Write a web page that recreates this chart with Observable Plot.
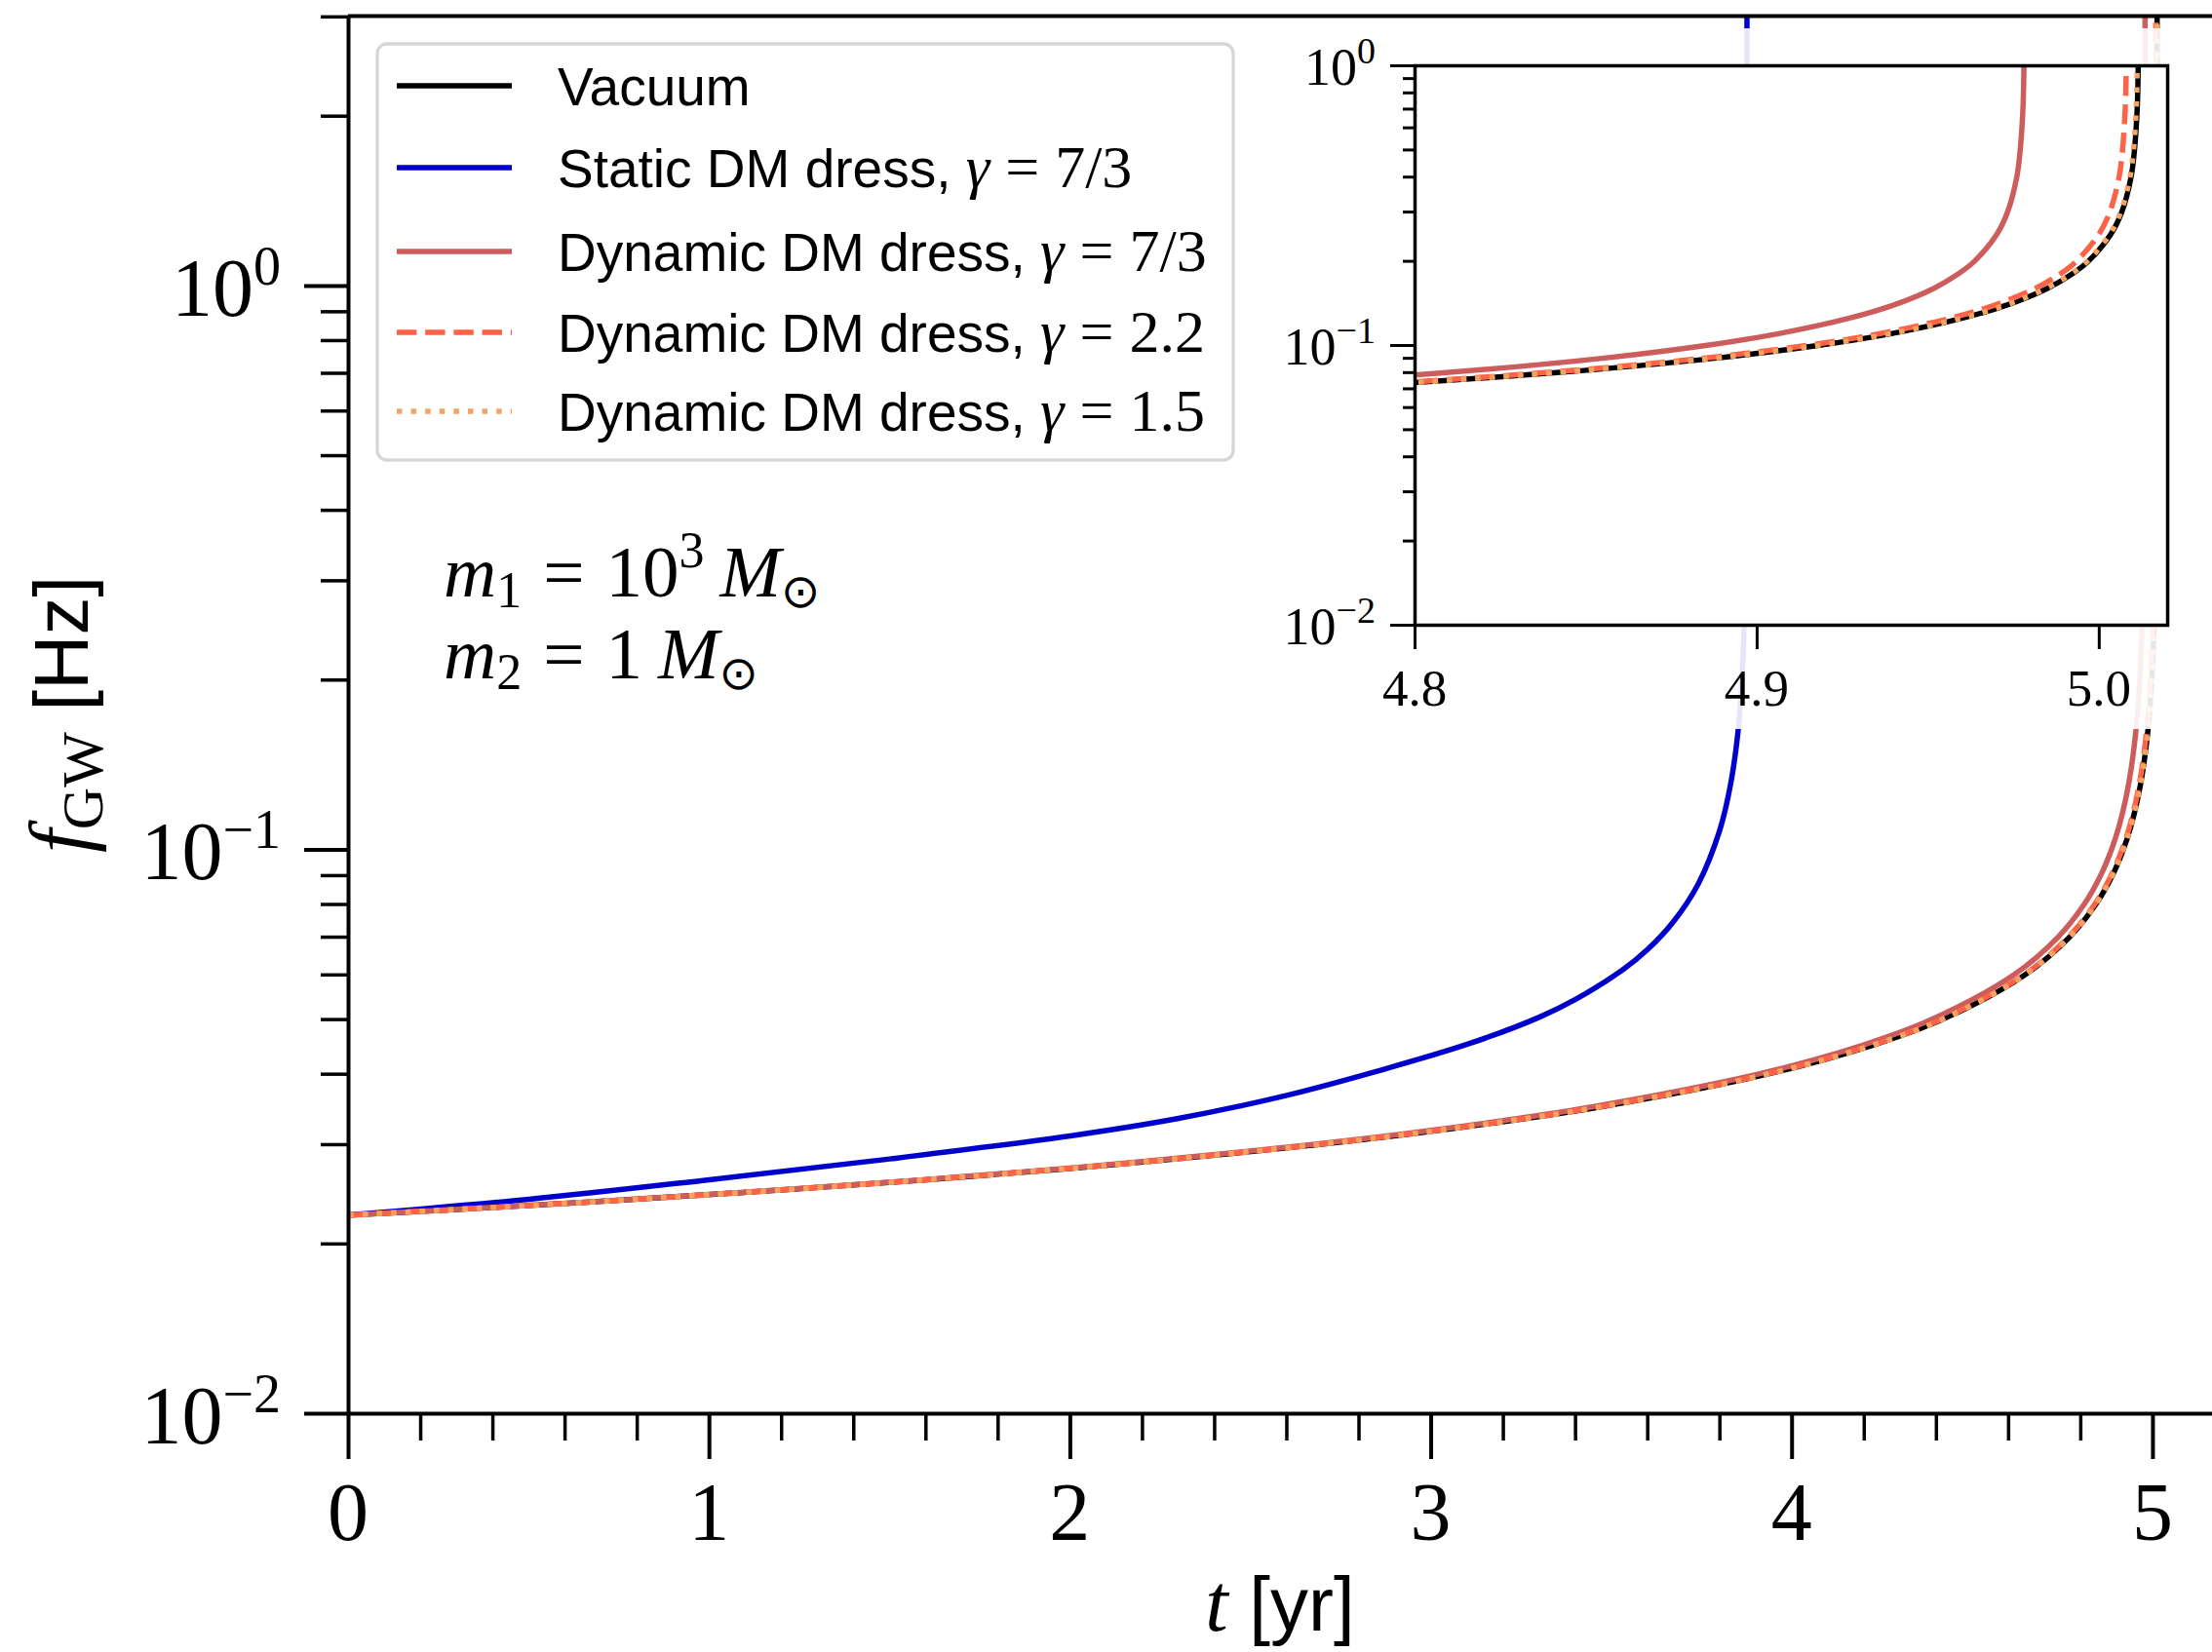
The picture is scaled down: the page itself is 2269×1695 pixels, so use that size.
<!DOCTYPE html>
<html>
<head>
<meta charset="utf-8">
<script src="https://cdn.jsdelivr.net/npm/d3@7"></script>
<script src="https://cdn.jsdelivr.net/npm/@observablehq/plot@0.6"></script>
<style>
  html, body { margin: 0; padding: 0; background: #ffffff; }
  #chart { position: relative; width: 2269px; height: 1695px; overflow: hidden; background: #ffffff; }
</style>
</head>
<body>
<div id="chart"></div>
<script>
// ---------------- DATA ----------------
// Common frequency grid [Hz] for the vacuum and dynamic-dress curves
const freqGrid = [0.0225, 0.023, 0.0235, 0.024, 0.025, 0.026, 0.027, 0.028, 0.030, 0.032,
                  0.035, 0.040, 0.045, 0.050, 0.060, 0.070, 0.080, 0.090, 0.100, 0.110,
                  0.125, 0.140, 0.160, 0.180, 0.200, 0.250, 0.300, 0.400, 0.500, 0.700,
                  1.0, 1.5, 2.0, 3.5];
// Time [yr] at which each curve reaches the frequency in freqGrid
const tVacuum = [0, 0.2842, 0.5478, 0.7918, 1.2268, 1.6027, 1.9295, 2.2146, 2.6837, 3.0526,
                 3.4685, 3.9311, 4.2223, 4.4157, 4.6451, 4.7686, 4.8414, 4.8873, 4.9177, 4.9388,
                 4.9598, 4.9733, 4.9848, 4.9920, 4.9968, 5.0034, 5.0066, 5.0093, 5.0103, 5.0111,
                 5.0114, 5.01153, 5.01157, 5.0116];
const tDyn73 = [0, 0.2823, 0.5441, 0.7865, 1.2186, 1.5920, 1.9166, 2.1998, 2.6658, 3.0323,
                3.4454, 3.9049, 4.1942, 4.3863, 4.6141, 4.7368, 4.8091, 4.8547, 4.8849, 4.9059,
                4.9267, 4.9402, 4.9516, 4.9587, 4.9635, 4.9701, 4.9732, 4.9759, 4.9769, 4.9777,
                4.9780, 4.97813, 4.97817, 4.9782];
const tDyn22 = [0, 0.2840, 0.5474, 0.7912, 1.2259, 1.6016, 1.9282, 2.2131, 2.6818, 3.0505,
                3.4661, 3.9284, 4.2194, 4.4126, 4.6419, 4.7653, 4.8380, 4.8839, 4.9143, 4.9354,
                4.9563, 4.9698, 4.9813, 4.9885, 4.9933, 4.9999, 5.0031, 5.0058, 5.0068, 5.0076,
                5.0079, 5.00803, 5.00807, 5.0081];
const tDyn15 = [0, 0.2842, 0.5478, 0.7917, 1.2267, 1.6026, 1.9294, 2.2144, 2.6835, 3.0524,
                3.4683, 3.9309, 4.2221, 4.4154, 4.6448, 4.7683, 4.8411, 4.8870, 4.9174, 4.9385,
                4.9595, 4.9730, 4.9845, 4.9917, 4.9965, 5.0031, 5.0063, 5.0090, 5.0100, 5.0108,
                5.0111, 5.01123, 5.01127, 5.0113];
// Static dress (own sampling)
const staticT = [0, 0.5, 1.0, 1.5, 2.0, 2.3, 2.6, 2.85, 3.1, 3.3, 3.4, 3.53, 3.6, 3.67, 3.74,
                 3.80, 3.83, 3.852, 3.862, 3.869, 3.8725, 3.8742, 3.8748, 3.87495, 3.8750];
const staticF = [0.0225, 0.0240, 0.0260, 0.0283, 0.0311, 0.0334, 0.0367, 0.0405, 0.0452, 0.0505,
                 0.0543, 0.0612, 0.0666, 0.0744, 0.0870, 0.1085, 0.131, 0.166, 0.207, 0.275,
                 0.385, 0.59, 1.0, 1.7, 3.2];

const seriesNames = ["Vacuum", "Static DM dress, ", "Dynamic DM dress, ", "Dynamic DM dress, ", "Dynamic DM dress, "];
const seriesGamma = ["", "7/3", "7/3", "2.2", "1.5"];

// Axes
const xDomainMain = [0, 5.165];
const yDomainMain = [0.01, 3.01];
const xMajorMain = [0, 1, 2, 3, 4, 5];
const xMinorMain = [0.2, 0.4, 0.6, 0.8, 1.2, 1.4, 1.6, 1.8, 2.2, 2.4, 2.6, 2.8, 3.2, 3.4, 3.6, 3.8, 4.2, 4.4, 4.6, 4.8];
const yMajorMain = [0.01, 0.1, 1];
const yMinorMain = [0.02, 0.03, 0.04, 0.05, 0.06, 0.07, 0.08, 0.09, 0.2, 0.3, 0.4, 0.5, 0.6, 0.7, 0.8, 0.9, 2, 3];
const xDomainInset = [4.8, 5.02];
const yDomainInset = [0.01, 1];
const xMajorInset = [4.8, 4.9, 5.0];
const xLabelsInset = ["4.8", "4.9", "5.0"];
const yMajorInset = [0.01, 0.1, 1];
const yMinorInset = [0.02, 0.03, 0.04, 0.05, 0.06, 0.07, 0.08, 0.09, 0.2, 0.3, 0.4, 0.5, 0.6, 0.7, 0.8, 0.9];

// ---------------- STYLE / LAYOUT ----------------
const W = 2269, H = 1695;
const SERIF = "'Liberation Serif', 'DejaVu Serif', serif";
const SANS = "'Liberation Sans', 'DejaVu Sans', sans-serif";
const SYM = "'DejaVu Sans', sans-serif";
const LW = 5.5;
const styles = [
  {stroke: "#000000", dash: null},
  {stroke: "#0000cd", dash: null},
  {stroke: "#cd5c5c", dash: null},
  {stroke: "#ff6347", dash: "20.4,8.8"},
  {stroke: "#f4a460", dash: "5.5,9.1"}
];

const rows = (ts, fs) => ts.map((t, i) => ({t, f: fs[i]}));
const seriesData = [
  rows(tVacuum, freqGrid),
  rows(staticT, staticF),
  rows(tDyn73, freqGrid),
  rows(tDyn22, freqGrid),
  rows(tDyn15, freqGrid)
];

function lineMarks() {
  return seriesData.map((d, i) => Plot.line(d, {
    x: "t", y: "f",
    stroke: styles[i].stroke,
    strokeWidth: LW,
    strokeDasharray: styles[i].dash || undefined,
    strokeLinecap: styles[i].dash ? "butt" : "round",
    curve: "catmull-rom",
    clip: true
  }));
}

function rich(parent, x, y, parts, anchor, transform) {
  const t = parent.append("text")
    .attr("x", x).attr("y", y)
    .attr("text-anchor", anchor || "start")
    .attr("fill", "#000");
  if (transform) t.attr("transform", transform);
  for (const p of parts) {
    const ts = t.append("tspan").text(p.s)
      .attr("font-family", p.fam)
      .attr("font-size", p.size);
    if (p.italic) ts.attr("font-style", "italic");
    if (p.dy) ts.attr("dy", p.dy);
    if (p.dx) ts.attr("dx", p.dx);
  }
  return t;
}
const expStr = v => { const e = Math.round(Math.log10(v)); return e < 0 ? "\u2212" + (-e) : String(e); };

// ---------------- MAIN PLOT ----------------
const mainBottom = 1450, mainTop = 16, mainLeft = 357;
const main = Plot.plot({
  width: W, height: H,
  marginLeft: mainLeft, marginRight: 0, marginTop: mainTop, marginBottom: H - mainBottom,
  x: {domain: xDomainMain},
  y: {type: "log", domain: yDomainMain},
  style: {background: "transparent", overflow: "visible"},
  marks: [
    ...lineMarks(),
    Plot.axisX({ticks: xMajorMain, tickSize: 47, tickFormat: () => "", label: null, strokeWidth: 4}),
    Plot.axisX({ticks: xMinorMain, tickSize: 28, tickFormat: () => "", label: null, strokeWidth: 3.5}),
    Plot.axisY({ticks: yMajorMain, tickSize: 45, tickFormat: () => "", label: null, strokeWidth: 4}),
    Plot.axisY({ticks: yMinorMain, tickSize: 28, tickFormat: () => "", label: null, strokeWidth: 3.5}),
    Plot.ruleX([xDomainMain[0]], {strokeWidth: 4}),
    Plot.ruleY([yDomainMain[0]], {strokeWidth: 4}),
    Plot.ruleY([yDomainMain[1]], {strokeWidth: 4})
  ]
});
const root = d3.select("#chart");
root.node().appendChild(main);
const svg = d3.select(main);
const xs = main.scale("x"), ys = main.scale("y");

// tick labels
yMajorMain.forEach(v => rich(svg, 288, ys.apply(v) + 31, [
  {s: "10", fam: SERIF, size: 84},
  {s: expStr(v), fam: SERIF, size: 56, dy: -32}
], "end"));
xMajorMain.forEach(v => rich(svg, xs.apply(v), 1580, [{s: String(v), fam: SERIF, size: 84}], "middle"));

// axis labels
rich(svg, (mainLeft + W) / 2, 1673, [
  {s: "t", fam: SERIF, size: 84, italic: true},
  {s: " [yr]", fam: SANS, size: 78}
], "middle");
rich(svg, 0, 0, [
  {s: "f", fam: SERIF, size: 86, italic: true},
  {s: "GW", fam: SERIF, size: 60, dy: 15},
  {s: " [Hz]", fam: SANS, size: 78, dy: -15}
], "middle", `translate(90,${(mainTop + mainBottom) / 2}) rotate(-90)`);

// translucent white box behind the inset
svg.append("rect").attr("x", 1300).attr("y", 29).attr("width", 945).attr("height", 719)
  .attr("fill", "#ffffff").attr("fill-opacity", 0.9);

// legend
const lg = svg.append("g");
lg.append("rect").attr("x", 387).attr("y", 45).attr("width", 878).attr("height", 427)
  .attr("rx", 10).attr("fill", "#ffffff").attr("stroke", "#d6d6d6").attr("stroke-width", 3.3);
const rowY = [88, 172, 258, 341, 422];
seriesNames.forEach((name, i) => {
  const y = rowY[i];
  lg.append("line").attr("x1", 407).attr("x2", 525).attr("y1", y).attr("y2", y)
    .attr("stroke", styles[i].stroke).attr("stroke-width", LW)
    .attr("stroke-dasharray", styles[i].dash || null);
  const parts = [{s: name, fam: SANS, size: 55}];
  if (seriesGamma[i]) {
    parts.push({s: "\u03b3", fam: SERIF, size: 62, italic: true});
    parts.push({s: "=", fam: SERIF, size: 62, dx: 16});
    parts.push({s: seriesGamma[i], fam: SERIF, size: 62, dx: 16});
  }
  rich(lg, 572, y + 20, parts, "start");
});

// annotation
rich(svg, 455, 612, [
  {s: "m", fam: SERIF, size: 75, italic: true},
  {s: "1", fam: SERIF, size: 52, dy: 11},
  {s: "=", fam: SERIF, size: 75, dy: -11, dx: 22},
  {s: "10", fam: SERIF, size: 75, dx: 22},
  {s: "3", fam: SERIF, size: 52, dy: -30},
  {s: "M", fam: SERIF, size: 75, italic: true, dy: 30, dx: 16},
  {s: "\u2299", fam: SYM, size: 48, dy: 11}
], "start");
rich(svg, 455, 696, [
  {s: "m", fam: SERIF, size: 75, italic: true},
  {s: "2", fam: SERIF, size: 52, dy: 11},
  {s: "=", fam: SERIF, size: 75, dy: -11, dx: 22},
  {s: "1", fam: SERIF, size: 75, dx: 22},
  {s: "M", fam: SERIF, size: 75, italic: true, dx: 16},
  {s: "\u2299", fam: SYM, size: 48, dy: 11}
], "start");

// ---------------- INSET ----------------
const iml = 160, imt = 40, imr = 30, imb = 110;
const insetFrameW = 772, insetFrameH = 574;
const inset = Plot.plot({
  width: iml + insetFrameW + imr, height: imt + insetFrameH + imb,
  marginLeft: iml, marginRight: imr, marginTop: imt, marginBottom: imb,
  x: {domain: xDomainInset},
  y: {type: "log", domain: yDomainInset},
  style: {background: "transparent", overflow: "visible"},
  marks: [
    Plot.frame({fill: "#ffffff", stroke: null}),
    ...lineMarks(),
    Plot.axisX({ticks: xMajorInset, tickSize: 25, tickFormat: () => "", label: null, strokeWidth: 3}),
    Plot.axisY({ticks: yMajorInset, tickSize: 25, tickFormat: () => "", label: null, strokeWidth: 3}),
    Plot.axisY({ticks: yMinorInset, tickSize: 12, tickFormat: () => "", label: null, strokeWidth: 3}),
    Plot.frame({stroke: "#000000", strokeWidth: 3.5, fill: null})
  ]
});
inset.style.position = "absolute";
inset.style.left = (1451 - iml) + "px";
inset.style.top = (67 - imt) + "px";
root.node().appendChild(inset);
const isvg = d3.select(inset);
const ixs = inset.scale("x"), iys = inset.scale("y");
yMajorInset.forEach(v => rich(isvg, iml - 40, iys.apply(v) + 20, [
  {s: "10", fam: SERIF, size: 54},
  {s: expStr(v), fam: SERIF, size: 38, dy: -22}
], "end"));
xMajorInset.forEach((v, i) => rich(isvg, ixs.apply(v), imt + insetFrameH + 83, [{s: xLabelsInset[i], fam: SERIF, size: 53}], "middle"));
</script>
</body>
</html>
